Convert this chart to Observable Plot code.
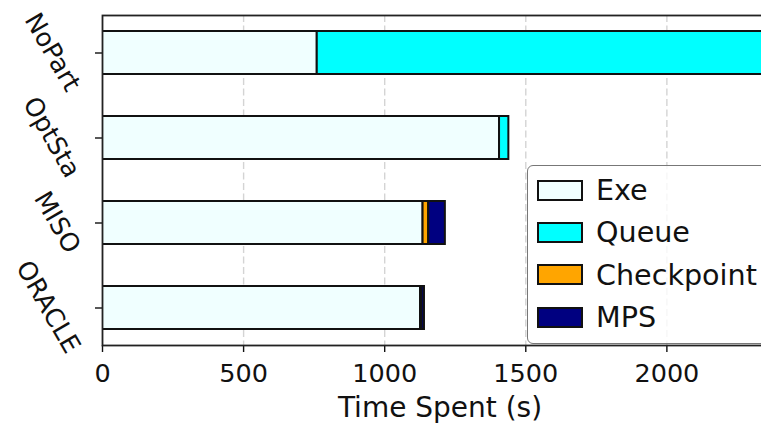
<!DOCTYPE html>
<html>
<head>
<meta charset="utf-8">
<script src="https://cdn.jsdelivr.net/npm/d3@7"></script>
<script src="https://cdn.jsdelivr.net/npm/@observablehq/plot@0.6"></script>
<style>
  html, body { margin: 0; padding: 0; background: #fff; overflow: hidden; }
  #wrap { position: relative; width: 761px; height: 423px; overflow: hidden; }
  #wrap svg { max-width: none !important; display: block; }
  #legend {
    position: absolute; left: 527px; top: 165px; width: 270px; height: 179px;
    box-sizing: border-box; border: 1.8px solid #777; border-radius: 6px;
    background: rgba(255,255,255,0.8); padding-top: 3px;
    font-family: "DejaVu Sans", sans-serif; font-size: 28.6px; color: #111;
  }
  .item { display: flex; align-items: center; height: 42.3px; }
  .sw { width: 42px; height: 17px; border: 2px solid #111; margin-left: 9px; margin-right: 13px; }
</style>
</head>
<body>
<div id="wrap"></div>
<script>
// ---- data ----
const categories = ["NoPart", "OptSta", "MISO", "ORACLE"];
const series = ["Exe", "Queue", "Checkpoint", "MPS"];
const colors = ["#F0FFFF", "#00FFFF", "#FFA500", "#000080"];
const exeValues        = [761, 1407, 1136, 1127];
const queueValues      = [1900, 33, 0, 0];
const checkpointValues = [0, 0, 20, 5];
const mpsValues        = [0, 0, 59, 9];
const xTicks = [0, 500, 1000, 1500, 2000];
const xMax = 2392;

const valuesBySeries = [exeValues, queueValues, checkpointValues, mpsValues];
const rows = [];
categories.forEach((c, i) => {
  series.forEach((s, j) => {
    const v = valuesBySeries[j][i];
    if (v > 0) rows.push({cat: c, series: s, value: v});
  });
});

// measure y tick label widths for matplotlib-like rotated alignment
const canvas = document.createElement("canvas");
const ctx = canvas.getContext("2d");
ctx.font = "25px 'DejaVu Sans'";
const yLabelMarks = categories.map(c => {
  const w = ctx.measureText(c).width;
  return Plot.text([c], {
    y: d => d, text: d => d, frameAnchor: "left",
    rotate: 60, textAnchor: "end", lineAnchor: "middle",
    fontSize: 25.5, fill: "#111",
    dx: -29, dy: 0.433 * w
  });
});

const chart = Plot.plot({
  width: 800,
  height: 423,
  marginLeft: 102,
  marginRight: 23,
  marginTop: 15,
  marginBottom: 78,
  style: {fontFamily: "'DejaVu Sans', sans-serif", fontSize: "25px", color: "#111", background: "white", maxWidth: "none"},
  x: {domain: [0, xMax], label: null},
  y: {domain: categories, type: "band", paddingInner: 0.5, paddingOuter: 0.19, label: null},
  color: {domain: series, range: colors},
  marks: [
    Plot.gridX(xTicks.filter(t => t > 0), {stroke: "#d4d4d4", strokeOpacity: 1, strokeWidth: 1.4, strokeDasharray: "7,3.5"}),
    Plot.barX(rows, Plot.stackX({
      x: "value", y: "cat", fill: "series", stroke: "#111", strokeWidth: 2, clip: true
    })),
    Plot.axisX({ticks: xTicks, tickFormat: d => String(d), tickSize: 7, tickPadding: 11, fontSize: 25.5, label: null, strokeWidth: 1.4}),
    Plot.axisY({tickSize: 7, tickFormat: () => "", label: null, strokeWidth: 1.4}),
    ...yLabelMarks,
    Plot.text(["Time Spent (s)"], {frameAnchor: "bottom", text: d => d, lineAnchor: "top", dy: 52, fontSize: 28, fill: "#111"}),
    Plot.frame({stroke: "#222", strokeWidth: 1.8})
  ]
});

const wrap = document.getElementById("wrap");
wrap.appendChild(chart);

// legend built from the same series/colour arrays
const legend = document.createElement("div");
legend.id = "legend";
series.forEach((s, i) => {
  const item = document.createElement("div");
  item.className = "item";
  const sw = document.createElement("div");
  sw.className = "sw";
  sw.style.background = colors[i];
  const lab = document.createElement("span");
  lab.textContent = s;
  item.appendChild(sw);
  item.appendChild(lab);
  legend.appendChild(item);
});
wrap.appendChild(legend);
</script>
</body>
</html>
